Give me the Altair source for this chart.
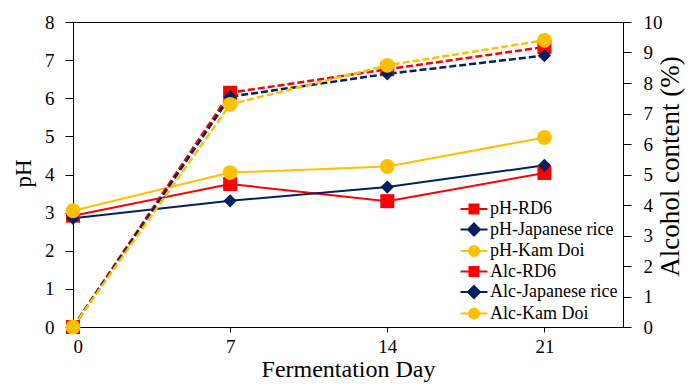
import altair as alt
import pandas as pd

# ---- data ----
days = [0, 7, 14, 21]
ph_rd6 = [2.92, 3.75, 3.30, 4.04]
ph_japanese = [2.85, 3.31, 3.67, 4.24]
ph_kamdoi = [3.05, 4.05, 4.21, 4.97]
alc_rd6 = [0.0, 7.68, 8.45, 9.18]
alc_japanese = [0.0, 7.55, 8.30, 8.90]
alc_kamdoi = [0.0, 7.30, 8.58, 9.40]

series_names = ["pH-RD6", "pH-Japanese rice", "pH-Kam Doi",
                "Alc-RD6", "Alc-Japanese rice", "Alc-Kam Doi"]
series_colors = ["#FF0000", "#002060", "#FFC000",
                 "#FF0000", "#002060", "#FFC000"]
series_shapes = ["square", "diamond", "circle",
                 "square", "diamond", "circle"]
ph_ticks = [0, 1, 2, 3, 4, 5, 6, 7, 8]
alc_ticks = [0, 1, 2, 3, 4, 5, 6, 7, 8, 9, 10]
day_ticks = [0, 7, 14, 21]

FONT = "Liberation Serif"

values_by_series = [ph_rd6, ph_japanese, ph_kamdoi, alc_rd6, alc_japanese, alc_kamdoi]
rows = []
for name, vals in zip(series_names, values_by_series):
    for d, v in zip(days, vals):
        rows.append({"day": d, "value": v, "series": name,
                     "group": "pH" if name.startswith("pH") else "Alc"})
df = pd.DataFrame(rows)
ph_df = df[df.group == "pH"]
alc_df = df[df.group == "Alc"]

# legend symbols: line segment with marker in the middle
LINE = "M-1.35,0H1.35"
SQ = "M-0.45,-0.45H0.45V0.45H-0.45Z"
DI = "M0,-0.6L0.6,0L0,0.6L-0.6,0Z"
CI = ("M0,-0.5C0.276,-0.5,0.5,-0.276,0.5,0C0.5,0.276,0.276,0.5,0,0.5"
      "C-0.276,0.5,-0.5,0.276,-0.5,0C-0.5,-0.276,-0.276,-0.5,0,-0.5Z")
shape_paths = {"square": LINE + SQ, "diamond": LINE + DI, "circle": LINE + CI}
legend_shapes = [shape_paths[s] for s in series_shapes]

x_enc = alt.X(
    "day:Q",
    scale=alt.Scale(domain=[0, 24.5], nice=False, zero=False),
    axis=alt.Axis(values=day_ticks, title="Fermentation Day", grid=False,
                  tickSize=5, labelPadding=5, labelFontSize=19, labelFont=FONT,
                  titleFont=FONT, titleFontSize=24, titleX=275, titleY=49,
                  titleBaseline="alphabetic", titleAlign="center"),
)

color_scale = alt.Scale(domain=series_names, range=series_colors)

ph_y_axis = alt.Axis(values=ph_ticks, title="pH", orient="left", grid=False,
                     tickSize=8, labelPadding=11, labelFontSize=19, labelFont=FONT,
                     titleFont=FONT, titleFontSize=23, titleAngle=270, titleX=-50,
                     titleY=151, titleBaseline="middle", titleAlign="center")
alc_y_axis = alt.Axis(values=alc_ticks, title="Alcohol content (%)", orient="right",
                      grid=False, tickSize=8, labelPadding=12, labelFontSize=19,
                      labelFont=FONT, titleFont=FONT, titleFontSize=27, titleAngle=270,
                      titleX=47, titleY=144, titleBaseline="middle", titleAlign="center")

ph_scale = alt.Scale(domain=[0, 8], nice=False, zero=True)
alc_scale = alt.Scale(domain=[0, 10], nice=False, zero=True)

legend_def = alt.Legend(orient="none", legendX=390, legendY=176, title=None,
                        symbolSize=400, symbolStrokeWidth=2,
                        labelFont=FONT, labelFontSize=18, labelColor="black",
                        rowPadding=0.5, labelOffset=5, padding=0, labelLimit=300)

# invisible carrier layer for the legend (zero-size marks at the data points)
legend_layer = alt.Chart(ph_df).mark_point(filled=True, opacity=1, size=0).encode(
    x=x_enc,
    y=alt.Y("value:Q", scale=ph_scale, axis=None),
    fill=alt.Fill("series:N", scale=alt.Scale(domain=series_names, range=series_colors),
                  legend=legend_def),
    stroke=alt.Stroke("series:N", scale=alt.Scale(domain=series_names, range=series_colors),
                      legend=legend_def),
    shape=alt.Shape("series:N", scale=alt.Scale(domain=series_names, range=legend_shapes),
                    legend=legend_def),
)

ph_lines = alt.Chart(ph_df).mark_line(strokeWidth=2).encode(
    x=x_enc,
    y=alt.Y("value:Q", scale=ph_scale, axis=ph_y_axis),
    color=alt.Color("series:N", scale=color_scale, legend=None),
)

alc_lines = alt.Chart(alc_df).mark_line(strokeWidth=2.5, strokeDash=[7, 3]).encode(
    x=x_enc,
    y=alt.Y("value:Q", scale=alc_scale, axis=alc_y_axis),
    color=alt.Color("series:N", scale=color_scale, legend=None),
)

size_for = {"square": 196, "diamond": 175, "circle": 220}


def point_layer(name, color, shape, scale):
    sub = df[df.series == name]
    return alt.Chart(sub).mark_point(shape=shape, filled=True, size=size_for[shape],
                                     opacity=1, color=color, strokeWidth=0).encode(
        x=x_enc,
        y=alt.Y("value:Q", scale=scale, axis=None),
    )


point_layers = []
for name, color, shape in zip(series_names, series_colors, series_shapes):
    sc = ph_scale if name.startswith("pH") else alc_scale
    point_layers.append(point_layer(name, color, shape, sc))

chart = alt.layer(
    legend_layer, ph_lines, alc_lines, *point_layers
).resolve_scale(
    y="independent"
).properties(
    width=550, height=305,
    padding={"left": 65, "top": 14, "right": 62, "bottom": 55},
    autosize=alt.AutoSizeParams(type="none"),
    background="white",
).configure_view(
    stroke="black", strokeWidth=1
).configure_axis(
    labelFont=FONT, titleFont=FONT, labelColor="black", titleColor="black",
    domainColor="black", tickColor="black", titleFontWeight="normal",
    domainWidth=1, tickWidth=1,
).configure_legend(
    labelFont=FONT
)

chart.save("out.html", embed_options={"renderer": "svg", "actions": False})
